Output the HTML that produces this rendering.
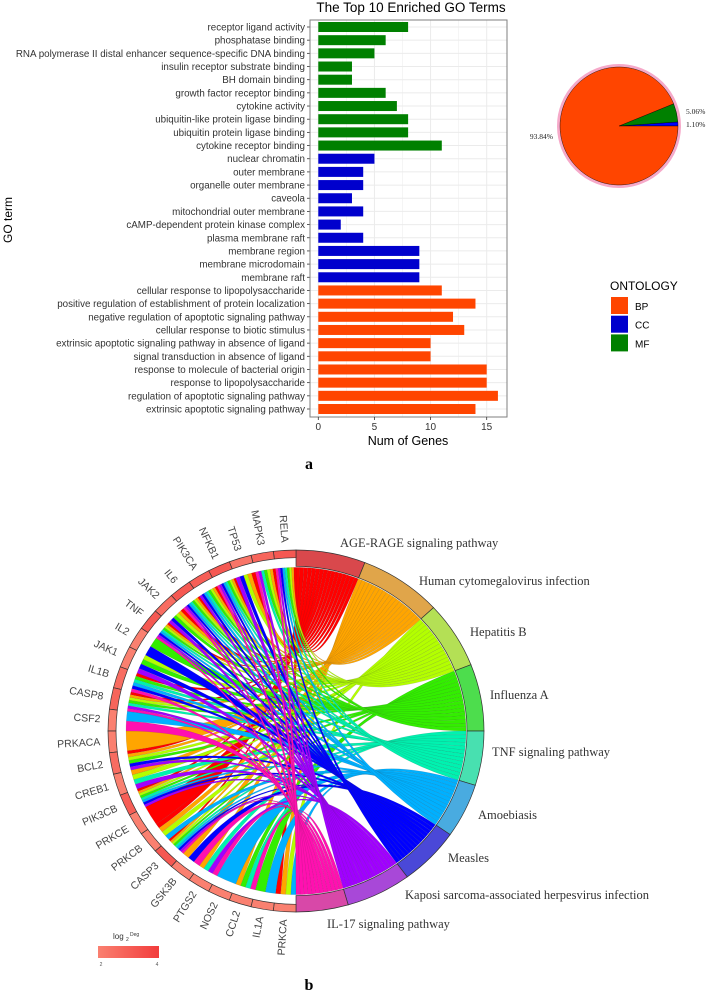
<!DOCTYPE html>
<html><head><meta charset="utf-8"><style>
body{margin:0;background:#fff}
svg{display:block}
text{font-family:"Liberation Sans",sans-serif}
.serif{font-family:"Liberation Serif",serif}
</style></head><body>
<svg id="svg" width="708" height="990" viewBox="0 0 708 990" xmlns="http://www.w3.org/2000/svg">
<g id="bar"></g>
<g id="pie"></g>
<g id="chord"></g>
<text x="309" y="469" font-size="16" font-weight="bold" class="serif" text-anchor="middle">a</text>
<text x="309" y="990" font-size="16" font-weight="bold" class="serif" text-anchor="middle">b</text>
</svg>
<script>
const terms=["receptor ligand activity","phosphatase binding","RNA polymerase II distal enhancer sequence-specific DNA binding","insulin receptor substrate binding","BH domain binding","growth factor receptor binding","cytokine activity","ubiquitin-like protein ligase binding","ubiquitin protein ligase binding","cytokine receptor binding","nuclear chromatin","outer membrane","organelle outer membrane","caveola","mitochondrial outer membrane","cAMP-dependent protein kinase complex","plasma membrane raft","membrane region","membrane microdomain","membrane raft","cellular response to lipopolysaccharide","positive regulation of establishment of protein localization","negative regulation of apoptotic signaling pathway","cellular response to biotic stimulus","extrinsic apoptotic signaling pathway in absence of ligand","signal transduction in absence of ligand","response to molecule of bacterial origin","response to lipopolysaccharide","regulation of apoptotic signaling pathway","extrinsic apoptotic signaling pathway"];
const counts=[8,6,5,3,3,6,7,8,8,11,5,4,4,3,4,2,4,9,9,9,11,14,12,13,10,10,15,15,16,14];
const ontology=["MF","MF","MF","MF","MF","MF","MF","MF","MF","MF","CC","CC","CC","CC","CC","CC","CC","CC","CC","CC","BP","BP","BP","BP","BP","BP","BP","BP","BP","BP"];
const xTicks=[0,5,10,15];
const pieLabels=["BP","CC","MF"];
const pieValues=[93.84,1.10,5.06];
const genes=["RELA","MAPK3","TP53","NFKB1","PIK3CA","IL6","JAK2","TNF","IL2","JAK1","IL1B","CASP8","CSF2","PRKACA","BCL2","CREB1","PIK3CB","PRKCE","PRKCB","CASP3","GSK3B","PTGS2","NOS2","CCL2","IL1A","PRKCA"];
const pathways=["AGE-RAGE signaling pathway","Human cytomegalovirus infection","Hepatitis B","Influenza A","TNF signaling pathway","Amoebiasis","Measles","Kaposi sarcoma-associated herpesvirus infection","IL-17 signaling pathway"];
const members=[[0,1,2,3,4,5,6,7,10,11,14,16,17,18,19,25],[0,1,2,3,4,5,6,7,11,13,14,15,16,18,19,20,21,23,25],[0,1,2,3,4,5,6,7,9,11,14,15,16,18,19,25],[0,1,3,4,5,6,7,8,9,10,11,14,16,19,23,24],[0,1,3,4,5,7,10,11,15,16,19,21,23],[0,3,4,5,7,10,12,16,18,19,22,24,25],[0,2,3,4,5,6,7,8,9,10,14,16,19,20],[0,1,2,3,4,5,6,7,9,11,14,15,16,19,21],[0,1,3,5,7,10,11,12,19,20,21,23]];
const ns="http://www.w3.org/2000/svg";
function mk(p,t,a,txt){const e=document.createElementNS(ns,t);for(const k in a)e.setAttribute(k,a[k]);if(txt!==undefined)e.textContent=txt;p.appendChild(e);return e;}
const ontColor={BP:"#ff4500",CC:"#0000cd",MF:"#008000"};
// ---- bar chart
const bar=document.getElementById('bar');
const PL=310,PR=507,PT=20,PB=417;
const x0=318.3,xs=(486.7-318.3)/15;
const X=v=>x0+v*xs;
const y0=27,ys=(409-27)/29;
const Y=i=>y0+i*ys;
mk(bar,'rect',{x:PL,y:PT,width:PR-PL,height:PB-PT,fill:'#fff'});
for(let v=-2.5;v<=17.5;v+=2.5){const xx=X(v);if(xx>PL&&xx<PR){const g=mk(bar,'line',{x1:xx,x2:xx,y1:PT,y2:PB,stroke:'#ebebeb','stroke-width':(v%5===0)?1:0.5});}}
terms.forEach((t,i)=>{const g=mk(bar,'line',{x1:PL,x2:PR,y1:Y(i),y2:Y(i),stroke:'#ebebeb','stroke-width':1});});
terms.forEach((t,i)=>{
 const r=mk(bar,'rect',{x:X(0),y:Y(i)-5,width:X(counts[i])-X(0),height:10,fill:ontColor[ontology[i]]});
 
 
 const l=mk(bar,'text',{x:305,y:Y(i)+3.5,'font-size':'9.8','text-anchor':'end',fill:'#333'},t);
 
 
 mk(bar,'line',{x1:307,x2:PL,y1:Y(i),y2:Y(i),stroke:'#333','stroke-width':0.8});
});
mk(bar,'rect',{x:PL,y:PT,width:PR-PL,height:PB-PT,fill:'none',stroke:'#7f7f7f','stroke-width':1});
xTicks.forEach(v=>{mk(bar,'line',{x1:X(v),x2:X(v),y1:PB,y2:PB+3,stroke:'#333','stroke-width':0.8});
 const t=mk(bar,'text',{x:X(v),y:PB+13,'font-size':'10','text-anchor':'middle',fill:'#333'},v);
 
 });
let e=mk(bar,'text',{x:408,y:445,'font-size':'12.5','text-anchor':'middle'},'Num of Genes');
e=mk(bar,'text',{x:12,y:220,'font-size':'12','text-anchor':'middle',transform:'rotate(-90 12 220)'},'GO term');
e=mk(bar,'text',{x:411,y:12,'font-size':'13.5','text-anchor':'middle'},'The Top 10 Enriched GO Terms');
e=mk(bar,'text',{x:610,y:290,'font-size':'12'},'ONTOLOGY');
["BP","CC","MF"].forEach((k,i)=>{const r=mk(bar,'rect',{x:611,y:297+i*18.7,width:17,height:17,fill:ontColor[k]});
 const t=mk(bar,'text',{x:635,y:310+i*18.7,'font-size':'10'},k);});
// ---- pie
const pie=document.getElementById('pie');
const pcx=619,pcy=126,pr=59;
mk(pie,'circle',{cx:pcx,cy:pcy,r:pr+1.5,fill:'none',stroke:'#f6a9c9','stroke-width':3});
const tot=pieValues.reduce((a,b)=>a+b,0);
const order=[1,2,0];let ang=0;
const pieCol={BP:"#ff4500",CC:"#0000ff",MF:"#008000"};
order.forEach(i=>{const a1=ang,a2=ang+pieValues[i]/tot*2*Math.PI;ang=a2;
 const p1=[pcx+pr*Math.cos(a1),pcy-pr*Math.sin(a1)],p2=[pcx+pr*Math.cos(a2),pcy-pr*Math.sin(a2)];
 const s=mk(pie,'path',{d:`M${pcx},${pcy}L${p1[0]},${p1[1]}A${pr},${pr} 0 ${a2-a1>Math.PI?1:0} 0 ${p2[0]},${p2[1]}Z`,fill:pieCol[pieLabels[i]],stroke:'#000','stroke-width':0.4});
 
 
 const m=(a1+a2)/2;const lx=pcx+(pr+8)*Math.cos(m),ly=pcy-(pr+8)*Math.sin(m);
 let tx=lx+2,ty=ly+3,anc='start';
 if(pieLabels[i]==='MF'){ty=pcy-12;tx=pcx+67;}
 if(pieLabels[i]==='CC'){ty=pcy+1;tx=pcx+67;}
 if(pieLabels[i]==='BP'){tx=pcx-66;ty=pcy+13;anc='end';}
 const t=mk(pie,'text',{x:tx,y:ty,'font-size':'7.5',class:'serif','text-anchor':anc,fill:'#222'},pieValues[i].toFixed(2)+'%');
 
 
});
// ---- chord
const ch=document.getElementById('chord');
const cx=296,cy=731,K=181/188;
const P=(r,phi)=>{const a=phi*Math.PI/180;return [cx+r*Math.sin(a),cy-r*K*Math.cos(a)];};
const arcP=(r,a,b)=>{const q=P(r,b);return `A${r},${r*K} 0 ${Math.abs(b-a)>180?1:0} ${b>a?1:0} ${q[0]},${q[1]}`;};
const seg=(r1,r2,a,b)=>{const p=P(r2,a),q=P(r1,b);return `M${p[0]},${p[1]}${arcP(r2,a,b)}L${q[0]},${q[1]}${arcP(r1,b,a)}Z`;};
const pwRing=["#d9484c","#e0a54a","#b4e055","#4ddd4d","#48e0b0","#49abe0","#4a48d8","#a848d8","#d848a8"];
const pwChord=["#ff0000","#ffa500","#b3ff00","#33ee00","#00f2b0","#00b0ff","#0000ff","#a000ff","#ff10b0"];
const labelPos=[[340,547],[419,585],[470,636],[490,699],[492,756],[478,819],[448,862],[405,899],[327,928]];
const total=members.reduce((s,m)=>s+m.length,0);
const pwStart=[];let acc=0;members.forEach((m,p)=>{pwStart.push(acc);acc+=m.length/total*180;});
const gw=180/genes.length;
const geneLinks=genes.map((g,i)=>{const l=[];members.forEach((m,p)=>{if(m.includes(i))l.push(p);});return l;});
const RC=170;
members.forEach((m,p)=>{
 const sorted=m.slice().sort((a,b)=>b-a);
 const w=(m.length/total*180)/m.length;
 sorted.forEach((g,k)=>{
  const b1=pwStart[p]+k*w,b2=b1+w;
  const gl=geneLinks[g];const gi=gl.indexOf(p);const sw=gw/gl.length;
  const a2=360-g*gw-gi*sw,a1=a2-sw;
  const A1=P(RC,a1),B1=P(RC,b1);
  const d=`M${A1[0]},${A1[1]}${arcP(RC,a1,a2)}Q${cx},${cy} ${B1[0]},${B1[1]}${arcP(RC,b1,b2)}Q${cx},${cy} ${A1[0]},${A1[1]}Z`;
  const r=mk(ch,'path',{d:d,fill:pwChord[p],stroke:'#333','stroke-width':0.3,'stroke-opacity':0.35});
  
  
 });
});
members.forEach((m,p)=>{
 const a=pwStart[p],b=a+m.length/total*180;
 const s=mk(ch,'path',{d:seg(171,188,a,b),fill:pwRing[p],stroke:'#333','stroke-width':0.7});
 
 
 const t=mk(ch,'text',{x:labelPos[p][0],y:labelPos[p][1],'font-size':'12.5',class:'serif',fill:'#333'},pathways[p]);
 
 
});
genes.forEach((g,i)=>{
 const deg=geneLinks[i].length;const lg=Math.log2(deg);
 const f=Math.max(0,Math.min(1,(lg-2)/2));
 const col=`rgb(${Math.round(250-8*f)},${Math.round(128-68*f)},${Math.round(112-52*f)})`;
 const a2=360-i*gw,a1=a2-gw;
 const s=mk(ch,'path',{d:seg(180,188,a1,a2),fill:col,stroke:'#333','stroke-width':0.7});
 
 
 const mid=(a1+a2)/2;const q=P(196,mid);
 const th=Math.atan2(q[1]-cy,q[0]-cx)*180/Math.PI;
 const t=mk(ch,'text',{x:q[0],y:q[1],'font-size':'10.5','text-anchor':'end','dominant-baseline':'middle',fill:'#444',transform:`rotate(${th-180} ${q[0]} ${q[1]})`},g);
 
 
});
const defs=mk(ch,'defs',{});const lgd=mk(defs,'linearGradient',{id:'lg'});
mk(lgd,'stop',{offset:'0','stop-color':'#fa8070'});mk(lgd,'stop',{offset:'1','stop-color':'#f23c3c'});
e=mk(ch,'rect',{x:98,y:946,width:61,height:12,fill:'url(#lg)'});
e=mk(ch,'text',{x:113,y:939,'font-size':'8',fill:'#333'},'log');
mk(ch,'text',{x:126,y:941,'font-size':'5',fill:'#333'},'2');
mk(ch,'text',{x:130,y:936,'font-size':'5',fill:'#333'},'Deg');
e=mk(ch,'text',{x:101,y:966,'font-size':'5',fill:'#555','text-anchor':'middle'},'2');
e=mk(ch,'text',{x:157,y:966,'font-size':'5',fill:'#555','text-anchor':'middle'},'4');
</script>
</body></html>
